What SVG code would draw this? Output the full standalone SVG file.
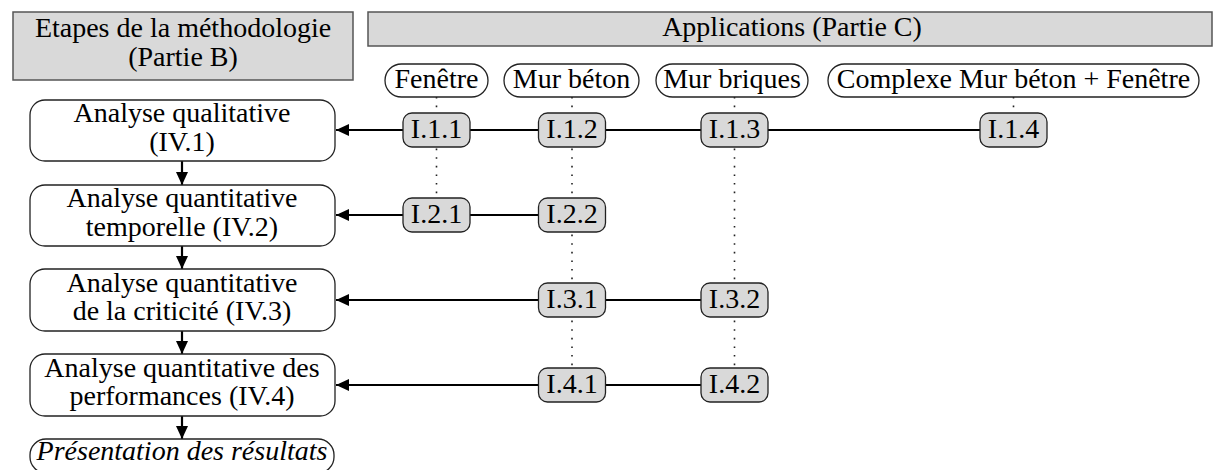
<svg xmlns="http://www.w3.org/2000/svg" width="1215" height="470" viewBox="0 0 1215 470" font-family="'Liberation Serif', 'Times New Roman', Times, serif">
<style>
text{font-family:'Liberation Serif','Times New Roman',Times,serif;font-size:28px;fill:#000;text-anchor:middle}
.hdr{fill:#d9d9d9;stroke:#555;stroke-width:1.5}
.step{fill:#fff;stroke:#222;stroke-width:1.3}
.node{fill:#d9d9d9;stroke:#222;stroke-width:1.3}
.pill{fill:#fff;stroke:#222;stroke-width:1.3}
.link{stroke:#000;stroke-width:2.2;fill:none}
.dot{stroke:#222;stroke-width:1.6;stroke-dasharray:1.6 7;fill:none}
.it{font-style:italic}
</style>
<defs>
<marker id="ah" markerUnits="userSpaceOnUse" markerWidth="13" markerHeight="12" refX="13" refY="6" orient="auto">
<path d="M0,0 L13,6 L0,12 z" fill="#000"/>
</marker>
</defs>

<g id="connectors">
<line class="dot" x1="436.5" y1="97" x2="436.5" y2="198"/>
<line class="dot" x1="572" y1="97" x2="572" y2="368"/>
<line class="dot" x1="734.5" y1="97" x2="734.5" y2="368"/>
<line class="dot" x1="1013.5" y1="97" x2="1013.5" y2="113"/>
<line class="link" x1="980" y1="130" x2="336" y2="130" marker-end="url(#ah)"/>
<line class="link" x1="538.5" y1="215" x2="336" y2="215" marker-end="url(#ah)"/>
<line class="link" x1="701" y1="300" x2="336" y2="300" marker-end="url(#ah)"/>
<line class="link" x1="701" y1="385" x2="336" y2="385" marker-end="url(#ah)"/>
<line class="link" x1="182" y1="161" x2="182" y2="185" marker-end="url(#ah)"/>
<line class="link" x1="182" y1="246" x2="182" y2="269" marker-end="url(#ah)"/>
<line class="link" x1="182" y1="331" x2="182" y2="354" marker-end="url(#ah)"/>
<line class="link" x1="182" y1="416" x2="182" y2="439" marker-end="url(#ah)"/>
</g>

<g id="header-methodo">
<rect class="hdr" x="13" y="12" width="340" height="68"/>
<text><tspan x="183" y="37">Etapes de la méthodologie</tspan><tspan x="183" y="66">(Partie B)</tspan></text>
</g>
<g id="header-applications">
<rect class="hdr" x="368" y="12" width="844" height="34"/>
<text x="792" y="36">Applications (Partie C)</text>
</g>

<g id="pill-fenetre">
<rect class="pill" x="385" y="64" width="103" height="33" rx="16.5"/>
<text x="436.5" y="88">Fenêtre</text>
</g>
<g id="pill-mur-beton">
<rect class="pill" x="504" y="64" width="135" height="33" rx="16.5"/>
<text x="571.5" y="88">Mur béton</text>
</g>
<g id="pill-mur-briques">
<rect class="pill" x="656" y="64" width="152" height="33" rx="16.5"/>
<text x="732" y="88">Mur briques</text>
</g>
<g id="pill-complexe">
<rect class="pill" x="828" y="64" width="371" height="33" rx="16.5"/>
<text x="1013.5" y="88">Complexe Mur béton + Fenêtre</text>
</g>

<g id="step-iv1">
<rect class="step" x="30" y="100" width="305" height="61" rx="15"/>
<text><tspan x="182" y="122">Analyse qualitative</tspan><tspan x="182" y="150.5">(IV.1)</tspan></text>
</g>
<g id="step-iv2">
<rect class="step" x="30" y="185" width="305" height="61" rx="15"/>
<text><tspan x="182" y="207">Analyse quantitative</tspan><tspan x="182" y="235.5">temporelle (IV.2)</tspan></text>
</g>
<g id="step-iv3">
<rect class="step" x="30" y="269" width="305" height="62" rx="15"/>
<text><tspan x="182" y="291.5">Analyse quantitative</tspan><tspan x="182" y="320">de la criticité (IV.3)</tspan></text>
</g>
<g id="step-iv4">
<rect class="step" x="30" y="354" width="305" height="62" rx="15"/>
<text><tspan x="182" y="376.5">Analyse quantitative des</tspan><tspan x="182" y="405">performances (IV.4)</tspan></text>
</g>
<g id="step-presentation">
<rect class="step" x="30" y="439" width="304" height="34" rx="16"/>
<text class="it" x="182" y="459.5">Présentation des résultats</text>
</g>

<g id="node-I11"><rect class="node" x="403" y="113" width="67" height="34" rx="9"/><text x="436.5" y="138">I.1.1</text></g>
<g id="node-I12"><rect class="node" x="538.5" y="113" width="67" height="34" rx="9"/><text x="572" y="138">I.1.2</text></g>
<g id="node-I13"><rect class="node" x="701" y="113" width="67" height="34" rx="9"/><text x="734.5" y="138">I.1.3</text></g>
<g id="node-I14"><rect class="node" x="980" y="113" width="67" height="34" rx="9"/><text x="1013.5" y="138">I.1.4</text></g>
<g id="node-I21"><rect class="node" x="403" y="198" width="67" height="34" rx="9"/><text x="436.5" y="223">I.2.1</text></g>
<g id="node-I22"><rect class="node" x="538.5" y="198" width="67" height="34" rx="9"/><text x="572" y="223">I.2.2</text></g>
<g id="node-I31"><rect class="node" x="538.5" y="283" width="67" height="34" rx="9"/><text x="572" y="308">I.3.1</text></g>
<g id="node-I32"><rect class="node" x="701" y="283" width="67" height="34" rx="9"/><text x="734.5" y="308">I.3.2</text></g>
<g id="node-I41"><rect class="node" x="538.5" y="368" width="67" height="34" rx="9"/><text x="572" y="393">I.4.1</text></g>
<g id="node-I42"><rect class="node" x="701" y="368" width="67" height="34" rx="9"/><text x="734.5" y="393">I.4.2</text></g>
</svg>
